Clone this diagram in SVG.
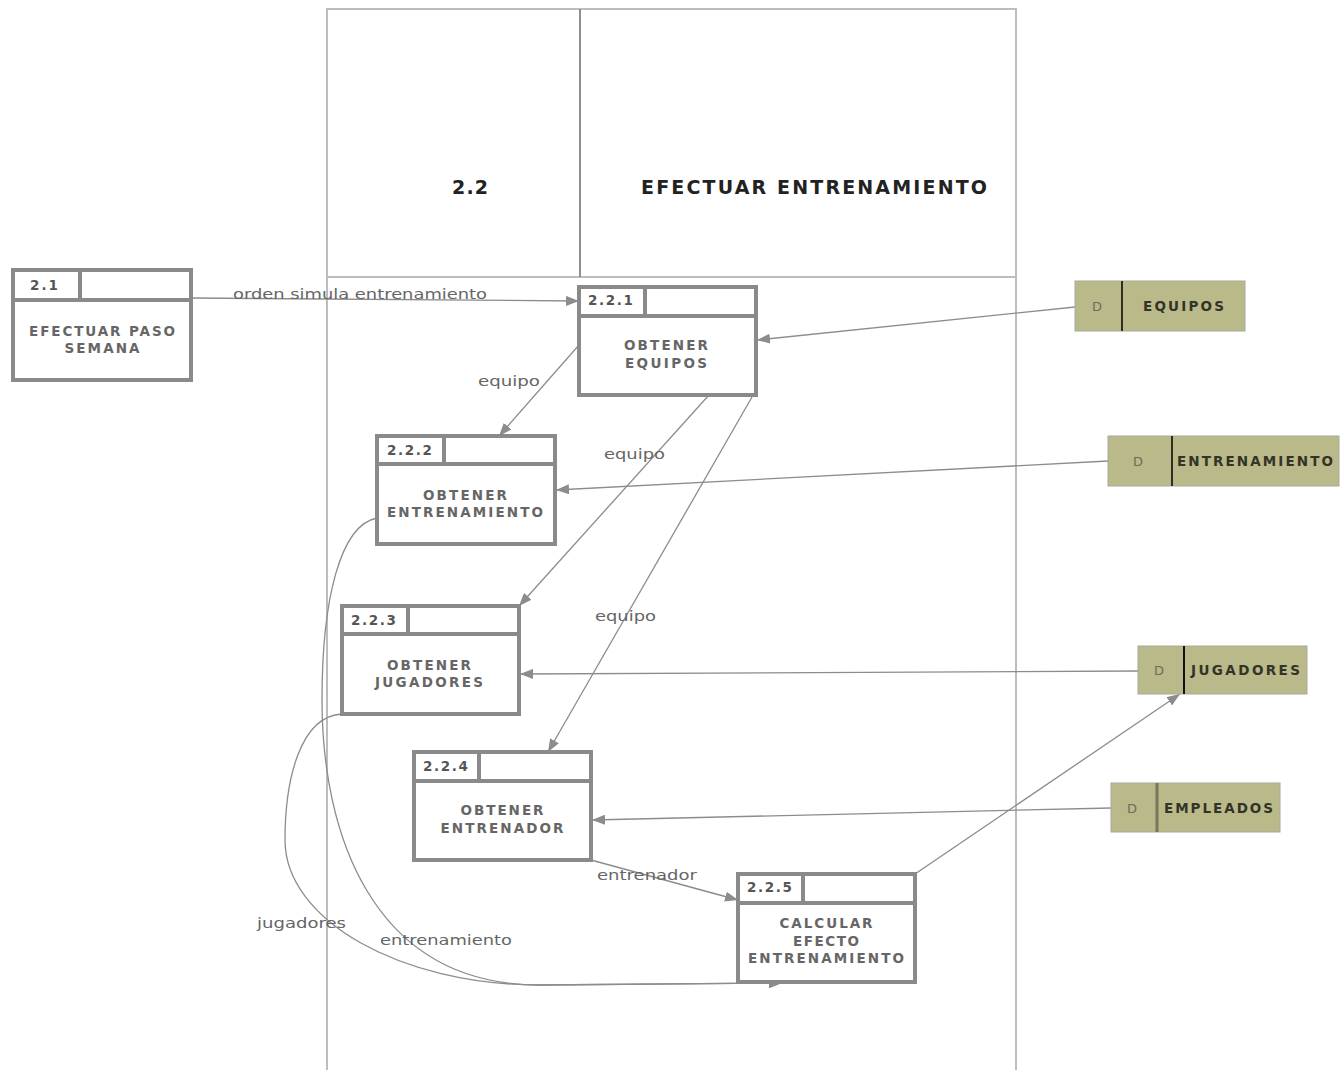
<svg xmlns="http://www.w3.org/2000/svg" width="1341" height="1070" viewBox="0 0 1341 1070">
  <style>
    .frame { fill: none; stroke: #bdbdbd; stroke-width: 2; }
    .proc { fill: #ffffff; stroke: #8a8a8a; stroke-width: 4; }
    .sep { stroke: #8a8a8a; stroke-width: 4; }
    .store { fill: #b9b98a; stroke: #a9a9a0; stroke-width: 1; }
    .storesep { stroke: #2e2e22; stroke-width: 2; }
    .flow { fill: none; stroke: #8c8c8c; stroke-width: 1.3; }
    .num { font-family: "DejaVu Sans", Verdana, sans-serif; font-weight: bold; font-size: 13.5px; fill: #555555; }
    .ptext { font-family: "DejaVu Sans", Verdana, sans-serif; font-weight: bold; font-size: 13.5px; fill: #666666; text-anchor: middle; }
    .stext { font-family: "DejaVu Sans", Verdana, sans-serif; font-weight: bold; font-size: 13.5px; fill: #333326; }
    .dmark { font-family: "DejaVu Sans", Verdana, sans-serif; font-size: 13px; fill: #6e6e5a; text-anchor: middle; }
    .lbl { font-family: "DejaVu Sans", Verdana, sans-serif; font-size: 14px; fill: #666666; }
    .title { font-family: "DejaVu Sans", Verdana, sans-serif; font-weight: bold; font-size: 19px; fill: #222222; }
  </style>
  <defs>
    <marker id="arrow" markerUnits="userSpaceOnUse" markerWidth="14" markerHeight="10" refX="13" refY="5" orient="auto">
      <path d="M0,0 L13,5 L0,10 Z" fill="#8c8c8c"/>
    </marker>
  </defs>

  <rect width="1341" height="1070" fill="#ffffff"/>

  <!-- parent process frame 2.2 -->
  <g id="frame-2-2">
    <path class="frame" d="M327,1070 L327,9 L1016,9 L1016,1070"/>
    <line class="frame" x1="327" y1="277" x2="1016" y2="277"/>
    <line x1="580" y1="9" x2="580" y2="277" stroke="#8f8f8f" stroke-width="2"/>
    <text class="title" x="452" y="194" textLength="36" lengthAdjust="spacing">2.2</text>
    <text class="title" x="641" y="194" textLength="346" lengthAdjust="spacing">EFECTUAR ENTRENAMIENTO</text>
  </g>

  <!-- connectors -->
  <g id="connectors">
    <path class="flow" d="M191,298 L579,301" marker-end="url(#arrow)"/>
    <path class="flow" d="M1075,307 L757,340" marker-end="url(#arrow)"/>
    <path class="flow" d="M579,345 L499,436" marker-end="url(#arrow)"/>
    <path class="flow" d="M709,395 L519,606" marker-end="url(#arrow)"/>
    <path class="flow" d="M752,397 L548,752" marker-end="url(#arrow)"/>
    <path class="flow" d="M1108,461 L556,490" marker-end="url(#arrow)"/>
    <path class="flow" d="M1138,671 L520,674" marker-end="url(#arrow)"/>
    <path class="flow" d="M1111,808 L592,820" marker-end="url(#arrow)"/>
    <path class="flow" d="M591,860 L738,900" marker-end="url(#arrow)"/>
    <path class="flow" d="M915,874 L1180,694" marker-end="url(#arrow)"/>
    <path class="flow" d="M377,518 C340,525 322,600 322,700 C322,830 370,985 540,985 L782,983" marker-end="url(#arrow)"/>
    <path class="flow" d="M342,714 C300,716 285,780 285,840 C285,920 400,985 540,985 L782,983" marker-end="url(#arrow)"/>

    <text class="lbl" x="233" y="299" textLength="254" lengthAdjust="spacingAndGlyphs">orden simula entrenamiento</text>
    <text class="lbl" x="478" y="386" textLength="62" lengthAdjust="spacingAndGlyphs">equipo</text>
    <text class="lbl" x="604" y="459" textLength="61" lengthAdjust="spacingAndGlyphs">equipo</text>
    <text class="lbl" x="595" y="621" textLength="61" lengthAdjust="spacingAndGlyphs">equipo</text>
    <text class="lbl" x="597" y="880" textLength="100" lengthAdjust="spacingAndGlyphs">entrenador</text>
    <text class="lbl" x="257" y="928" textLength="89" lengthAdjust="spacingAndGlyphs">jugadores</text>
    <text class="lbl" x="380" y="945" textLength="132" lengthAdjust="spacingAndGlyphs">entrenamiento</text>
  </g>

  <!-- process 2.1 -->
  <g id="p-2-1">
    <rect class="proc" x="13" y="270" width="178" height="110"/>
    <line class="sep" x1="13" y1="300" x2="191" y2="300"/>
    <line class="sep" x1="80" y1="270" x2="80" y2="300"/>
    <text class="num" x="30" y="290" textLength="28" lengthAdjust="spacing">2.1</text>
    <text class="ptext" x="102" y="336" textLength="146" lengthAdjust="spacing">EFECTUAR PASO</text>
    <text class="ptext" x="102" y="353" textLength="75" lengthAdjust="spacing">SEMANA</text>
  </g>

  <!-- process 2.2.1 -->
  <g id="p-2-2-1">
    <rect class="proc" x="579" y="287" width="177" height="108"/>
    <line class="sep" x1="579" y1="316" x2="756" y2="316"/>
    <line class="sep" x1="645" y1="287" x2="645" y2="316"/>
    <text class="num" x="588" y="305" textLength="45" lengthAdjust="spacing">2.2.1</text>
    <text class="ptext" x="666" y="350" textLength="84" lengthAdjust="spacing">OBTENER</text>
    <text class="ptext" x="666" y="368" textLength="82" lengthAdjust="spacing">EQUIPOS</text>
  </g>

  <!-- process 2.2.2 -->
  <g id="p-2-2-2">
    <rect class="proc" x="377" y="436" width="178" height="108"/>
    <line class="sep" x1="377" y1="464" x2="555" y2="464"/>
    <line class="sep" x1="444" y1="436" x2="444" y2="464"/>
    <text class="num" x="387" y="455" textLength="45" lengthAdjust="spacing">2.2.2</text>
    <text class="ptext" x="465" y="500" textLength="84" lengthAdjust="spacing">OBTENER</text>
    <text class="ptext" x="465" y="517" textLength="156" lengthAdjust="spacing">ENTRENAMIENTO</text>
  </g>

  <!-- process 2.2.3 -->
  <g id="p-2-2-3">
    <rect class="proc" x="342" y="606" width="177" height="108"/>
    <line class="sep" x1="342" y1="634" x2="519" y2="634"/>
    <line class="sep" x1="408" y1="606" x2="408" y2="634"/>
    <text class="num" x="351" y="625" textLength="45" lengthAdjust="spacing">2.2.3</text>
    <text class="ptext" x="429" y="670" textLength="84" lengthAdjust="spacing">OBTENER</text>
    <text class="ptext" x="429" y="687" textLength="108" lengthAdjust="spacing">JUGADORES</text>
  </g>

  <!-- process 2.2.4 -->
  <g id="p-2-2-4">
    <rect class="proc" x="414" y="752" width="177" height="108"/>
    <line class="sep" x1="414" y1="781" x2="591" y2="781"/>
    <line class="sep" x1="479" y1="752" x2="479" y2="781"/>
    <text class="num" x="423" y="771" textLength="45" lengthAdjust="spacing">2.2.4</text>
    <text class="ptext" x="502" y="815" textLength="83" lengthAdjust="spacing">OBTENER</text>
    <text class="ptext" x="502" y="833" textLength="123" lengthAdjust="spacing">ENTRENADOR</text>
  </g>

  <!-- process 2.2.5 -->
  <g id="p-2-2-5">
    <rect class="proc" x="738" y="874" width="177" height="108"/>
    <line class="sep" x1="738" y1="903" x2="915" y2="903"/>
    <line class="sep" x1="803" y1="874" x2="803" y2="903"/>
    <text class="num" x="747" y="892" textLength="45" lengthAdjust="spacing">2.2.5</text>
    <text class="ptext" x="826" y="928" textLength="93" lengthAdjust="spacing">CALCULAR</text>
    <text class="ptext" x="826" y="946" textLength="66" lengthAdjust="spacing">EFECTO</text>
    <text class="ptext" x="826" y="963" textLength="156" lengthAdjust="spacing">ENTRENAMIENTO</text>
  </g>

  <!-- data stores -->
  <g id="ds-equipos">
    <rect class="store" x="1075" y="281" width="170" height="50"/>
    <line class="storesep" x1="1122" y1="281" x2="1122" y2="331"/>
    <text class="dmark" x="1097" y="311">D</text>
    <text class="stext" x="1143" y="311" textLength="81" lengthAdjust="spacing">EQUIPOS</text>
  </g>
  <g id="ds-entrenamiento">
    <rect class="store" x="1108" y="436" width="231" height="50"/>
    <line class="storesep" x1="1172" y1="436" x2="1172" y2="486"/>
    <text class="dmark" x="1138" y="466">D</text>
    <text class="stext" x="1177" y="466" textLength="156" lengthAdjust="spacing">ENTRENAMIENTO</text>
  </g>
  <g id="ds-jugadores">
    <rect class="store" x="1138" y="646" width="169" height="48"/>
    <line x1="1184" y1="646" x2="1184" y2="694" stroke="#111111" stroke-width="2"/>
    <text class="dmark" x="1159" y="675">D</text>
    <text class="stext" x="1191" y="675" textLength="109" lengthAdjust="spacing">JUGADORES</text>
  </g>
  <g id="ds-empleados">
    <rect class="store" x="1111" y="783" width="169" height="49"/>
    <line x1="1157" y1="783" x2="1157" y2="832" stroke="#77775a" stroke-width="3"/>
    <text class="dmark" x="1132" y="813">D</text>
    <text class="stext" x="1164" y="813" textLength="109" lengthAdjust="spacing">EMPLEADOS</text>
  </g>
</svg>
